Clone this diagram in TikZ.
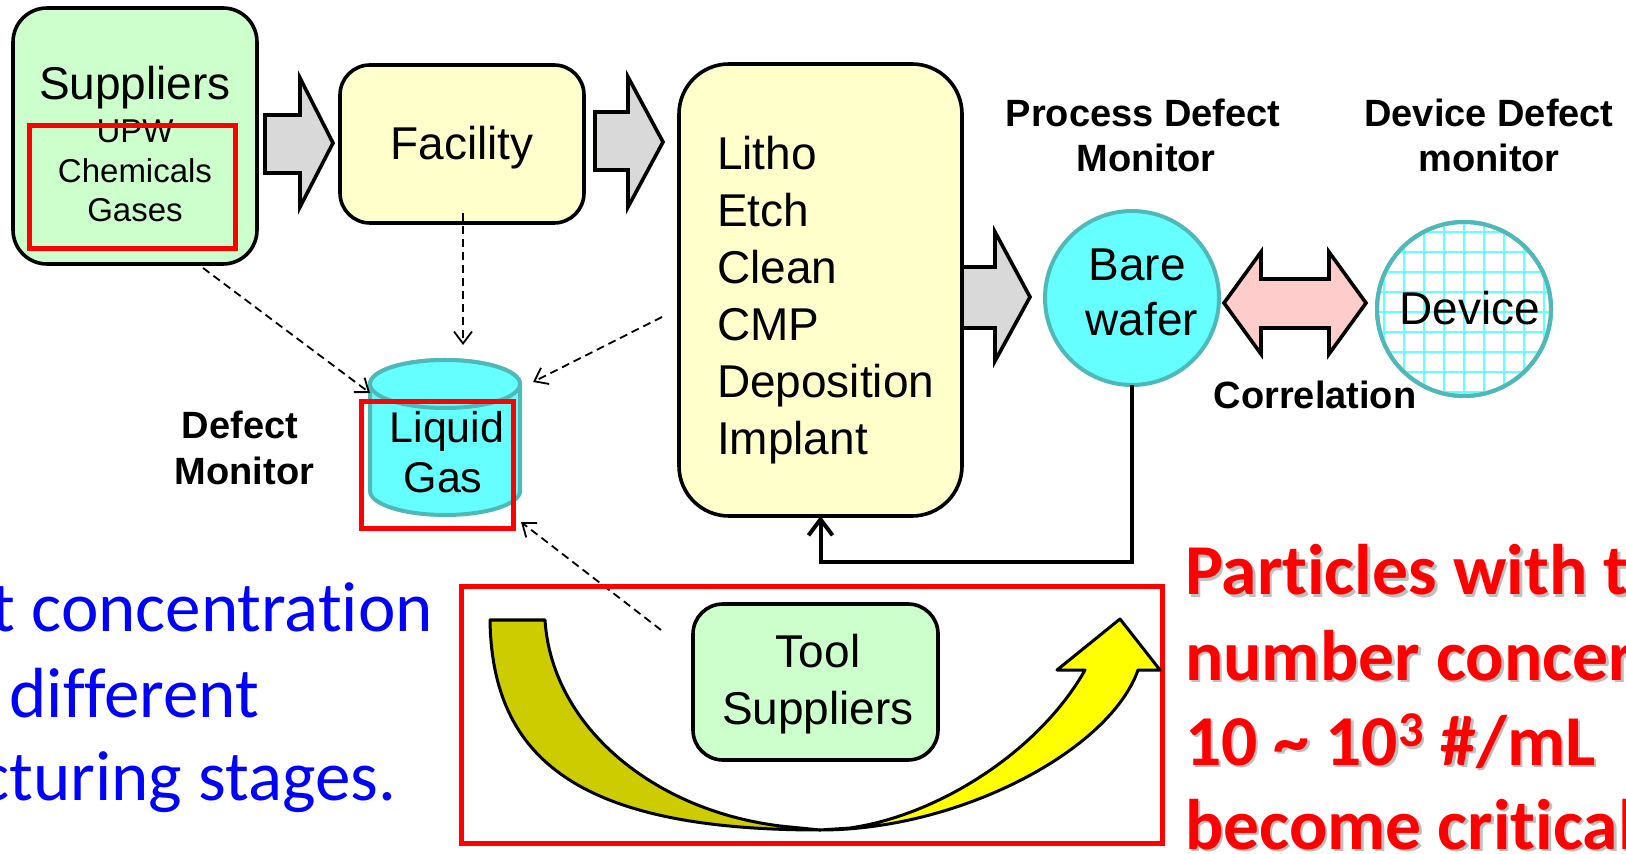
\documentclass[tikz,border=0pt]{standalone}
\usepackage{fontspec}
\setmainfont{Liberation Sans}
\newfontfamily\notefont[Ligatures=NoCommon]{Carlito}
\usetikzlibrary{arrows.meta}

\definecolor{boxgreen}{HTML}{CCFFCC}
\definecolor{boxyellow}{HTML}{FFFFCC}
\definecolor{wafercyan}{HTML}{66FFFF}
\definecolor{waferedge}{HTML}{4FB8B8}
\definecolor{flowgray}{HTML}{D9D9D9}
\definecolor{corrpink}{HTML}{FFCCCC}
\definecolor{bowdark}{HTML}{CCCC00}
\definecolor{bowlight}{HTML}{FFFF00}
\definecolor{noteblue}{HTML}{0000FF}
\definecolor{notered}{HTML}{FF0000}

\begin{document}
\begin{tikzpicture}[x=0.5pt, y=-0.5pt,
  every node/.style={inner sep=0pt, outer sep=0pt},
  txt/.style={font=\fontsize{23pt}{27pt}\selectfont, anchor=base},
  smalltxt/.style={font=\fontsize{16.5pt}{20pt}\selectfont, anchor=base},
  tagtxt/.style={font=\bfseries\fontsize{19pt}{23pt}\selectfont, anchor=base},
  roundbox/.style={rectangle, draw=black, line width=1.8pt},
  blockarrow/.style={fill=flowgray, draw=black, line width=1.8pt, line join=miter, miter limit=6},
  wafer/.style={circle, minimum size=87pt, draw=waferedge, line width=2pt},
  redframe/.style={draw=notered, line width=2.5pt},
  probe/.style={draw=black, line width=0.9pt, dash pattern=on 4pt off 2.5pt,
    -{Straight Barb[length=6pt, width=9pt]}},
  feedback/.style={draw=black, line width=2pt,
    -{Straight Barb[length=8pt, width=12pt]}},
  bowline/.style={draw=black, line width=1.5pt, line join=round},
  bluenote/.style={font=\notefont\fontsize{35.5pt}{41pt}\selectfont, text=noteblue, anchor=base east},
  rednote/.style={font=\notefont\bfseries\fontsize{35.8pt}{41pt}\selectfont, text=notered, anchor=base west},
  redshade/.style={font=\notefont\bfseries\fontsize{35.8pt}{41pt}\selectfont, text=black!25, anchor=base west}
]
\useasboundingbox (0,0) rectangle (1626,854);
\fill[white] (0,0) rectangle (1626,854);
\clip (0,0) rectangle (1626,854);

% ---------- top row: suppliers, facility, process ----------
\node[roundbox, fill=boxgreen, rounded corners=17pt, minimum width=122pt, minimum height=128pt] (sup) at (135,136) {};
\node[txt] (supT) at (135,100) {Suppliers};
\node[smalltxt] (supA) at (135,143) {UPW};
\node[smalltxt] (supB) at (135,183) {Chemicals};
\node[smalltxt] (supC) at (135,222) {Gases};
\draw[redframe] (29,126) rectangle (235,249);

\path[blockarrow] (265,115) -- (300,115) -- (300,78) -- (333,143) -- (300,207) -- (300,173) -- (265,173) -- cycle;

\node[roundbox, fill=boxyellow, rounded corners=15pt, minimum width=122pt, minimum height=79pt] (fac) at (462,144) {};
\node[txt] (facT) at (462,160) {Facility};

\path[blockarrow] (595,112) -- (628,112) -- (628,77) -- (663,142) -- (628,207) -- (628,170) -- (595,170) -- cycle;

\path[blockarrow] (950,267) -- (995,267) -- (995,232) -- (1030,297) -- (995,361) -- (995,328) -- (950,328) -- cycle;

\node[roundbox, fill=boxyellow, rounded corners=25pt, minimum width=141.5pt, minimum height=226pt] (proc) at (820.5,290) {};
\foreach \t [count=\i] in {Litho,Etch,Clean,CMP,Deposition,Implant}
  \node[txt, anchor=base west] (stage\i) at (717,{113+57*\i}) {\t};

% ---------- monitors ----------
\node[tagtxt] (pdmA) at (1143,127) {Process Defect};
\node[tagtxt] (pdmB) at (1146,172) {Monitor};
\node[tagtxt] (ddmA) at (1489,127) {Device Defect};
\node[tagtxt] (ddmB) at (1489,172) {monitor};

\node[wafer, fill=wafercyan] (bare) at (1132,298) {};
\node[txt] (bareA) at (1137,281) {Bare};
\node[txt] (bareB) at (1142,336) {wafer};

\node[wafer, fill=white] (dev) at (1464,309) {};
\begin{scope}
  \clip (dev.center) circle (42.5pt);
  \foreach \gx in {1364,1384,...,1564}
    \draw[wafercyan, line width=1pt] (\gx,200) -- (\gx,420);
  \foreach \gy in {212,232,...,412}
    \draw[wafercyan, line width=1pt] (1360,\gy) -- (1570,\gy);
\end{scope}
\draw[waferedge, line width=2pt] (dev.center) circle (43.5pt);
\node[txt] (devT) at (1470,325) {Device};

\path[blockarrow, fill=corrpink] (1224,303) -- (1261,252) -- (1261,279) -- (1329,279) -- (1329,252)
  -- (1366,303) -- (1329,354) -- (1329,328) -- (1261,328) -- (1261,354) -- cycle;
\node[tagtxt] (corr) at (1315,409) {Correlation};

% ---------- tank ----------
\path[fill=wafercyan, draw=waferedge, line width=2pt] (370,384) -- (370,491)
  arc[start angle=180, end angle=360, x radius=37.5pt, y radius=12pt] -- (520,384)
  arc[start angle=0, end angle=180, x radius=37.5pt, y radius=12pt] -- cycle;
\path[fill=wafercyan, draw=waferedge, line width=2pt] (445,384) ellipse [x radius=37.5pt, y radius=12pt];
\node[txt, font=\fontsize{21.5pt}{25pt}\selectfont] (tankA) at (447,443) {Liquid};
\node[txt, font=\fontsize{21.5pt}{25pt}\selectfont] (tankB) at (443,493) {Gas};
\draw[redframe] (361,402) rectangle (513,529);

\node[tagtxt] (dmA) at (240,439) {Defect};
\node[tagtxt] (dmB) at (244.5,485) {Monitor};

% ---------- probe paths into the tank ----------
\coordinate (supOut) at (203,268);
\coordinate (tankInA) at (370,393);
\coordinate (facOut) at (463,213);
\coordinate (tankInB) at (463,345);
\coordinate (procOut) at (662,317);
\coordinate (tankInC) at (533,382);
\coordinate (toolOut) at (661,630);
\coordinate (tankInD) at (521,522);
\draw[probe] (supOut) -- (tankInA);
\draw[probe] (facOut) -- (tankInB);
\draw[probe] (procOut) -- (tankInC);
\draw[probe] (toolOut) -- (tankInD);

% ---------- feedback from bare wafer to process ----------
\coordinate (fbturn) at (820.5,562);
\draw[feedback] (bare.south) |- (fbturn) -- (proc.south);

% ---------- tool suppliers loop ----------
\draw[redframe] (461,587) rectangle (1162,843);
\node[roundbox, fill=boxgreen, rounded corners=15pt, minimum width=122.5pt, minimum height=78pt] (tool) at (815.5,682) {};
\node[txt] (toolA) at (818,668) {Tool};
\node[txt] (toolB) at (818,724) {Suppliers};

\path[bowline, fill=bowdark] (490,620) -- (545,620)
  .. controls (552,730) and (660,815) .. (790,827) -- (820,830)
  .. controls (580,830) and (492,760) .. (490,620) -- cycle;
\path[bowline, fill=bowlight] (820,830)
  .. controls (960,830) and (1110,750) .. (1138,670) -- (1160,670) -- (1120,619) -- (1057,670) -- (1085,670)
  .. controls (1040,750) and (940,815) .. (850,828) -- cycle;

% ---------- notes ----------
\node[bluenote] (blueA) at (433,632) {t concentration};
\node[bluenote] (blueB) at (259,717) {different};
\node[bluenote] (blueC) at (396,800) {cturing stages.};

\node[redshade] (shadeA) at (1187.5,597.5) {Particles with t};
\node[redshade] (shadeB) at (1187.5,682.5) {number concer};
\node[redshade] (shadeC) at (1187.5,767.5) {10 \textasciitilde{} 10\textsuperscript{3} \#/mL};
\node[redshade] (shadeD) at (1187.5,851.5) {become critical};
\node[rednote] (redA) at (1185,595) {Particles with t};
\node[rednote] (redB) at (1185,680) {number concer};
\node[rednote] (redC) at (1185,765) {10 \textasciitilde{} 10\textsuperscript{3} \#/mL};
\node[rednote] (redD) at (1185,849) {become critical};
\end{tikzpicture}
\end{document}
